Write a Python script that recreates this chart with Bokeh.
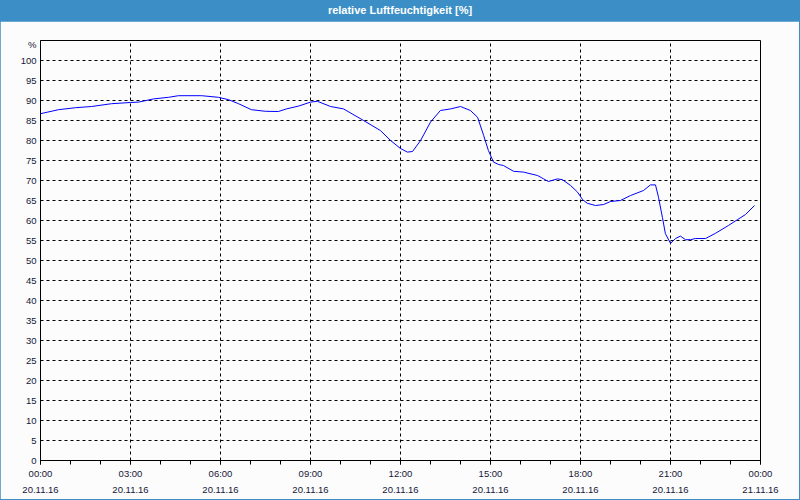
from bokeh.plotting import figure
from bokeh.models import FixedTicker, LinearAxis, Div, Range1d, Grid
from bokeh.layouts import column
from bokeh.embed import file_html
from bokeh.resources import INLINE

title_text = "relative Luftfeuchtigkeit [%]"

# time in hours since 20.11.16 00:00
hours = [0.0, 0.6, 1.17, 1.7, 2.37, 3.0, 3.27, 3.77, 4.27, 4.6, 5.37, 5.93, 6.27, 6.6,
         7.03, 7.5, 7.93, 8.2, 8.6, 9.0, 9.23, 9.67, 10.1, 10.77, 11.33, 11.67, 12.0,
         12.23, 12.4, 12.67, 13.0, 13.33, 13.67, 14.0, 14.33, 14.57, 14.77, 14.93, 15.1,
         15.27, 15.43, 15.77, 16.1, 16.57, 16.77, 16.93, 17.23, 17.4, 17.67, 17.9, 18.07,
         18.23, 18.5, 18.77, 19.0, 19.33, 19.67, 20.1, 20.33, 20.5, 20.6, 20.73, 20.83,
         21.0, 21.17, 21.33, 21.5, 21.67, 21.83, 22.17, 22.5, 22.93, 23.23, 23.5, 23.8]
humidity = [86.7, 87.7, 88.2, 88.5, 89.2, 89.5, 89.6, 90.4, 90.8, 91.2, 91.2, 90.8, 90.2, 89.2,
            87.7, 87.3, 87.25, 87.9, 88.6, 89.6, 89.8, 88.5, 87.9, 85.0, 82.5, 80.0, 78.0,
            77.1, 77.25, 80.0, 84.6, 87.5, 87.9, 88.5, 87.5, 85.8, 81.3, 77.5, 74.6,
            74.0, 73.75, 72.3, 72.1, 71.25, 70.4, 69.75, 70.4, 70.2, 68.75, 67.1, 65.2,
            64.3, 63.75, 64.0, 64.75, 65.0, 66.25, 67.5, 68.9, 68.9, 65.8, 60.8, 56.7,
            54.3, 55.5, 56.1, 55.2, 55.2, 55.5, 55.5, 56.8, 58.75, 60.2, 61.5, 63.75]

x_ticks = [0, 3, 6, 9, 12, 15, 18, 21, 24]
x_time_labels = ["00:00", "03:00", "06:00", "09:00", "12:00", "15:00", "18:00", "21:00", "00:00"]
x_date_labels = ["20.11.16"] * 8 + ["21.11.16"]
x_minor = list(range(0, 25))
y_ticks = list(range(0, 101, 5)) + [104]
y_labels = [str(v) for v in range(0, 101, 5)] + ["%"]

BG = "#fbfcfb"
BLUE = "#3c8fc6"
TXT = "#16163a"
FONT = "Liberation Sans"

p = figure(width=799, height=478, output_backend="svg", toolbar_location=None,
           x_range=Range1d(0, 24), y_range=Range1d(0, 105),
           x_axis_type=None, y_axis_type=None, margin=0,
           min_border_left=40, min_border_right=39, min_border_top=19, min_border_bottom=39)
p.background_fill_color = BG
p.border_fill_color = BG
p.outline_line_color = "black"
p.outline_line_width = 1

# x axes (time line + date line)
ax1 = LinearAxis(ticker=FixedTicker(ticks=x_ticks, minor_ticks=x_minor),
                 major_label_overrides={t: l for t, l in zip(x_ticks, x_time_labels)})
ax2 = LinearAxis(ticker=FixedTicker(ticks=x_ticks, minor_ticks=[]),
                 major_label_overrides={t: l for t, l in zip(x_ticks, x_date_labels)})
for ax in (ax1, ax2):
    ax.major_label_text_font = FONT
    ax.major_label_text_font_size = "9.5px"
    ax.major_label_text_color = TXT
    ax.axis_line_color = "black"
ax1.major_tick_in = 0
ax1.major_tick_out = 4
ax1.minor_tick_in = 0
ax1.minor_tick_out = 4
ax1.major_tick_line_color = "black"
ax1.minor_tick_line_color = "black"
ax1.major_label_standoff = 3
ax2.axis_line_color = None
ax2.major_tick_line_color = None
ax2.minor_tick_line_color = None
ax2.major_tick_out = 0
ax2.major_tick_in = 0
ax2.major_label_standoff = 5
p.add_layout(ax1, "below")
p.add_layout(ax2, "below")

ay = LinearAxis(ticker=FixedTicker(ticks=y_ticks, minor_ticks=[]),
                major_label_overrides={t: l for t, l in zip(y_ticks, y_labels)})
ay.major_label_text_font = FONT
ay.major_label_text_font_size = "9.5px"
ay.major_label_text_color = TXT
ay.major_tick_out = 0
ay.major_tick_in = 0
ay.minor_tick_line_color = None
ay.major_label_standoff = 4
ay.axis_line_color = "black"
p.add_layout(ay, "left")

xg = Grid(dimension=0, ticker=FixedTicker(ticks=x_ticks[1:-1]),
          grid_line_color="black", grid_line_dash="3 3", grid_line_width=1)
yg = Grid(dimension=1, ticker=FixedTicker(ticks=list(range(5, 101, 5))),
          grid_line_color="black", grid_line_dash="3 3", grid_line_width=1)
p.add_layout(xg)
p.add_layout(yg)

p.line(hours, humidity, line_color="#0000ff", line_width=1)

header = Div(text=title_text, width=800, height=21, margin=0,
             styles={"background-color": BLUE, "color": "white",
                     "font-family": FONT, "font-weight": "bold", "font-size": "11px",
                     "text-align": "center", "line-height": "21px", "padding": "0",
                     "overflow": "hidden"})
bottom_edge = Div(text="", width=800, height=1, margin=0,
                  styles={"background-color": BLUE, "overflow": "hidden"})

layout = column(header, p, bottom_edge, spacing=0, margin=0,
                styles={"outline": "1px solid " + BLUE, "outline-offset": "-1px",
                        "background-color": BLUE})

open("out.html", "w").write(file_html(layout, INLINE))
